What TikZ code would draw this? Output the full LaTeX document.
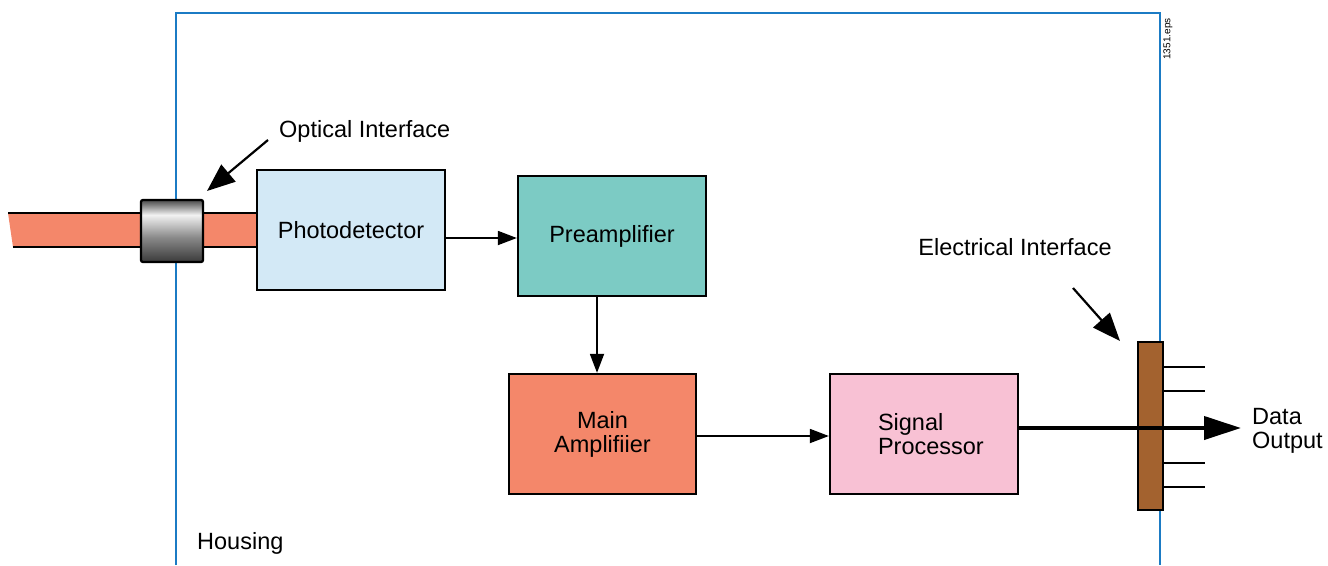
\documentclass[tikz,border=0pt]{standalone}
\usepackage{fontspec}
\setmainfont{Liberation Sans}
\usetikzlibrary{arrows.meta}
\definecolor{housing}{HTML}{1B7BC4}
\definecolor{fiber}{HTML}{F4876A}
\definecolor{pdfill}{HTML}{D3E9F6}
\definecolor{prefill}{HTML}{7CCBC4}
\definecolor{mainfill}{HTML}{F4876A}
\definecolor{sigfill}{HTML}{F8C1D4}
\definecolor{barfill}{HTML}{A3622F}
\definecolor{gdark}{HTML}{3A3A3A}
\definecolor{gmid}{HTML}{8A8A8A}
\definecolor{glight}{HTML}{F2F2F2}
\definecolor{gdark2}{HTML}{4A4A4A}
\pgfdeclareverticalshading{connshade}{100bp}{color(0bp)=(gdark); color(25bp)=(gdark); color(45bp)=(gmid); color(63bp)=(glight); color(75bp)=(gdark2); color(100bp)=(gdark2)}
\tikzset{
  lbl/.style={font=\fontsize{23.5}{24}\selectfont, inner sep=0pt, align=left},
  block/.style={draw=black, line width=2.3pt, minimum width=188pt, minimum height=120pt, inner sep=0pt, font=\fontsize{23.5}{24}\selectfont, align=center},
  arr/.style={line width=1.8pt, -{Triangle[length=19pt,width=14pt]}},
  bigarr/.style={line width=2.2pt, -{Triangle[length=28pt,width=22pt]}},
}
\begin{document}
\begin{tikzpicture}[x=1pt,y=-1pt]
\useasboundingbox (0,0) rectangle (1328,565);
% housing
\draw[housing, line width=2.4pt] (176,565) -- (176,13) -- (1160,13) -- (1160,565);
\node[rotate=90, font=\fontsize{10}{10}\selectfont, inner sep=0pt] (eps) at (1168,39) {1351.eps};
\node[lbl, anchor=west] (hous) at (197,543) {Housing};
% fiber
\fill[fiber] (8,213) -- (258,213) -- (258,247) -- (13,247) -- cycle;
\draw[line width=2.2pt] (8,213) -- (258,213);
\draw[line width=2.2pt] (13,247) -- (258,247);
% connector
\shade[shading=connshade, rounded corners=2pt] (141,200) rectangle (203,262);
\draw[line width=2.3pt, rounded corners=2pt] (141,200) rectangle (203,262);
\node (conn) at (172,231) {};
% blocks
\node[block, fill=pdfill] (pd) at (351,230) {Photodetector};
\node[block, fill=prefill] (pre) at (612,236) {Preamplifier};
\node[block, fill=mainfill, minimum width=187pt] (main) at (602.5,434) {Main\\Amplifiier};
\node[block, fill=sigfill] (sig) at (924,434) {\makebox[0pt][l]{\hspace{-46pt}\parbox[c]{120pt}{\raggedright Signal\\Processor}}};
% electrical interface bar
\node[draw=black, line width=2.3pt, fill=barfill, minimum width=25pt, minimum height=168pt, inner sep=0pt] (bar) at (1150.5,426) {};
\foreach \yy in {367,391,463,487} {
  \draw[line width=2.2pt] (bar.east |- 0,\yy) -- (1205,\yy);
}
% connectors
\draw[arr] ([yshift=-2pt]pre.west -| pd.east) -- ([yshift=-2pt]pre.west);
\draw[arr] ([xshift=-5.5pt]pre.south -| main.north) -- ([xshift=-5.5pt]main.north);
\draw[arr] ([yshift=-2pt]main.east) -- ([yshift=-2pt]sig.west);
\coordinate (out) at (1241,428);
\draw[line width=4pt, -{Triangle[length=37pt,width=23pt]}] ([yshift=6pt]sig.east) -- (out);
\node[lbl, anchor=west] (dout) at (1252,431) {Data\\Output};
% labels with arrows
\node[lbl, anchor=west] (oi) at (279,131) {Optical Interface};
\coordinate (oitip) at (207,191);
\draw[bigarr] (268,140) -- (oitip);
\node[lbl] (ei) at (1015,247) {Electrical Interface};
\coordinate (eitip) at (1120,341);
\draw[bigarr] (1073,288) -- (eitip);
\end{tikzpicture}
\end{document}
